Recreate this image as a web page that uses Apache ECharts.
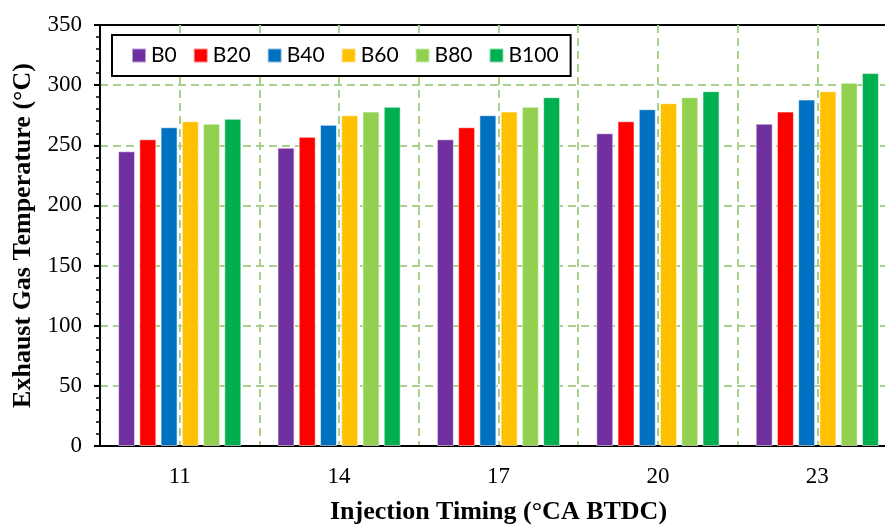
<!DOCTYPE html>
<html>
<head>
<meta charset="utf-8">
<script src="https://cdn.jsdelivr.net/npm/echarts@6/dist/echarts.min.js"></script>
<style>
	html, body { margin: 0; padding: 0; background: #fff; }
	#chart { width: 885px; height: 525px; }
</style>
</head>
<body>
<div id="chart"></div>
<script>
	// injection timing categories
	const timings = ['11', '14', '17', '20', '23'];
	const fuels = ['B0', 'B20', 'B40', 'B60', 'B80', 'B100'];
	const fuelColors = ['#7030A0', '#FF0000', '#0070C0', '#FFC000', '#92D050', '#00B050'];

	// exhaust gas temperature (°C), one array per blend
	const b0 = [245, 248, 255, 260, 268];
	const b20 = [255, 257, 265, 270, 278];
	const b40 = [265, 267, 275, 280, 288];
	const b60 = [270, 275, 278, 285, 295];
	const b80 = [268, 278, 282, 290, 302];
	const b100 = [272, 282, 290, 295, 310];
	const seriesValues = [b0, b20, b40, b60, b80, b100];

	const gridGreen = '#A9D18E';
	const serif = '"Liberation Serif", "Times New Roman", serif';

	const chart = echarts.init(document.getElementById('chart'));
	chart.setOption({
		animation: false,
		grid: {
			left: 100,
			top: 25,
			width: 797,
			height: 421,
			outerBoundsMode: 'none',
			show: true,
			borderColor: '#000',
			borderWidth: 2
		},
		legend: {
			data: fuels,
			left: 112,
			top: 35,
			orient: 'horizontal',
			padding: [10, 12, 10, 19],
			itemGap: 16,
			itemWidth: 14,
			itemHeight: 14,
			icon: 'rect',
			borderColor: '#000',
			borderWidth: 2,
			backgroundColor: '#fff',
			textStyle: {
				fontFamily: 'Lato, "Liberation Sans", sans-serif',
				fontSize: 21,
				color: '#000'
			}
		},
		xAxis: [
			{
				type: 'category',
				data: timings,
				name: 'Injection Timing (°CA BTDC)',
				nameLocation: 'middle',
				nameGap: 53,
				nameTextStyle: {
					fontFamily: serif,
					fontWeight: 'bold',
					fontSize: 26,
					color: '#000'
				},
				axisLine: { lineStyle: { color: '#000', width: 2 } },
				axisTick: { alignWithLabel: true, length: 5, lineStyle: { color: '#000', width: 2 } },
				axisLabel: { fontFamily: serif, fontSize: 23, color: '#000', margin: 19 },
				splitLine: { show: false }
			},
			{
				// only used for the dashed vertical grid lines
				type: 'value',
				min: 0,
				max: 10,
				interval: 1,
				position: 'bottom',
				axisLine: { show: false },
				axisTick: { show: false },
				axisLabel: { show: false },
				splitLine: {
					show: true,
					showMinLine: false,
					showMaxLine: false,
					lineStyle: { color: gridGreen, width: 2, type: [8, 5] }
				}
			}
		],
		yAxis: {
			type: 'value',
			min: 0,
			max: 350,
			interval: 50,
			name: 'Exhaust Gas Temperature (°C)',
			nameLocation: 'middle',
			nameGap: 61,
			nameTextStyle: {
				fontFamily: serif,
				fontWeight: 'bold',
				fontSize: 26,
				color: '#000'
			},
			axisLine: { show: true, lineStyle: { color: '#000', width: 2 } },
			axisTick: { show: true, length: 6, lineStyle: { color: '#000', width: 2 } },
			minorTick: { show: true, splitNumber: 5, length: 4, lineStyle: { color: '#000', width: 1.5 } },
			axisLabel: { fontFamily: serif, fontSize: 23, color: '#000', margin: 18 },
			splitLine: {
				show: true,
				showMinLine: false,
				showMaxLine: false,
				lineStyle: { color: gridGreen, width: 2, type: [8, 5] }
			}
		},
		series: fuels.map((name, i) => ({
			name: name,
			type: 'bar',
			xAxisIndex: 0,
			data: seriesValues[i],
			barWidth: 17,
			barGap: '25%',
			itemStyle: {
				color: fuelColors[i],
				borderColor: 'rgba(255,255,255,0.55)',
				borderWidth: 1
			}
		}))
	});
</script>
</body>
</html>
